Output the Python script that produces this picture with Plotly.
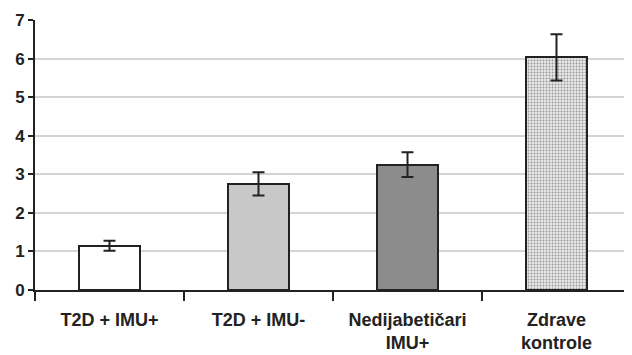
import plotly.graph_objects as go

categories = ["T2D + IMU+", "T2D + IMU-", "Nedijabetičari<br>IMU+", "Zdrave<br>kontrole"]
values = [1.15, 2.75, 3.25, 6.03]
errors = [0.13, 0.30, 0.32, 0.60]
y_ticks = [0, 1, 2, 3, 4, 5, 6, 7]

fills = ["#ffffff", "#c8c8c8", "#8c8c8c", "#e8e8e8"]
patterns = ["", "", "", "."]

fig = go.Figure()
fig.add_trace(go.Bar(
    x=categories, y=values, width=0.41,
    marker=dict(
        color=fills,
        line=dict(color="#222222", width=2),
        pattern=dict(shape=patterns, fgcolor="#bdbdbd", bgcolor="#efefef", size=3, solidity=0.3),
    ),
    error_y=dict(type="data", array=errors, visible=True, color="#222222", thickness=2, width=6),
))

# page body has an 8px default margin, so the figure is sized/offset to compensate
fig.update_layout(
    width=624, height=347,
    margin=dict(l=27, r=1, t=12, b=65, autoexpand=False),
    plot_bgcolor="#ffffff", paper_bgcolor="#ffffff",
    showlegend=False,
    bargap=0,
    font=dict(family="Liberation Sans, Arial, sans-serif", color="#222222"),
)
fig.update_xaxes(
    type="category", range=[-0.5, 3.5], automargin=False,
    showline=True, linecolor="#222222", linewidth=2,
    ticks="outside", tickson="boundaries", ticklen=9, tickwidth=2, tickcolor="#222222",
    tickfont=dict(size=18, family="Liberation Sans, Arial, sans-serif", color="#222222", weight="bold"),
    ticklabelstandoff=12,
    showgrid=False,
)
fig.update_yaxes(
    range=[0, 7], tickvals=y_ticks, ticktext=[f"<b>{v}</b>" for v in y_ticks],
    automargin=False,
    showline=True, linecolor="#222222", linewidth=2,
    ticks="outside", ticklen=5, tickwidth=2, tickcolor="#222222",
    tickfont=dict(size=17, family="Liberation Sans, Arial, sans-serif", color="#222222"),
    showgrid=True, gridcolor="#d4d4d4", gridwidth=2,
    zeroline=False,
)

fig.write_html("out.html")
